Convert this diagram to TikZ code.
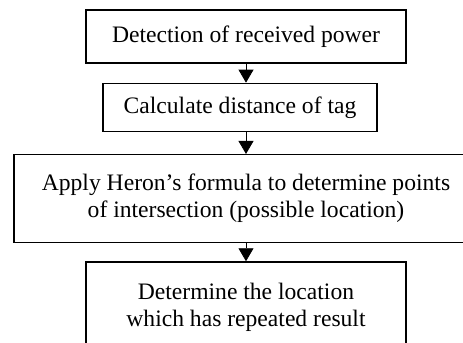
\documentclass[tikz,border=0pt]{standalone}
\usepackage{fontspec}
\setmainfont{Liberation Serif}
\usetikzlibrary{positioning}
\usetikzlibrary{arrows.meta}
\tikzset{%
  flowarrow/.style = {-{Triangle[width=15bp,length=13bp]},line width=0.8bp},
  stage/.style = {rectangle,draw,solid,line width=1.3bp,align=center,
        inner sep=0pt}
}

\begin{document}
\begin{tikzpicture}[node distance=19bp and 1cm]\fontsize{23.6bp}{27bp}\selectfont
   \useasboundingbox (0,0) rectangle (463bp,-343bp);
   \clip (0,0) rectangle (463bp,-343bp);

   \node[stage,minimum width=320bp,minimum height=53bp] (detect) at (246bp,-36.5bp)
      {Detection of received power};
   \node[stage,minimum width=274bp,minimum height=48bp] (dist) [below=of detect,xshift=-6bp]
      {Calculate distance of tag};
   \node[stage,minimum width=464bp,minimum height=88bp] (heron) [below=22bp of dist,xshift=6bp]
      {Apply Heron's formula to determine points\\of intersection (possible location)};
   \node[stage,minimum width=320bp,minimum height=90bp] (locate) [below=18bp of heron]
      {Determine the location\\which has repeated result};

   \draw[flowarrow] (detect.south) -- (detect.south |- dist.north);
   \draw[flowarrow] (dist.south -| detect.south) -- (detect.south |- heron.north);
   \draw[flowarrow] (heron.south) -- (locate.north);
\end{tikzpicture}
\end{document}
